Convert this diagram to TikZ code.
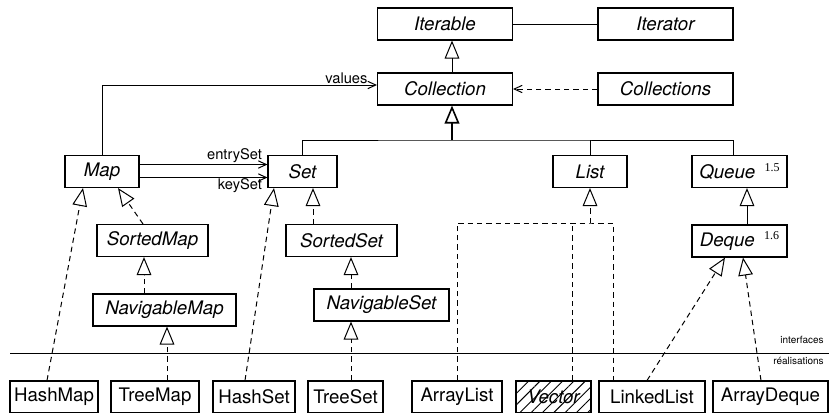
\documentclass[tikz,border=0pt]{standalone}
\usepackage{fontspec}
\setmainfont{TeX Gyre Heros}
\newfontfamily\numfont{Liberation Serif}
\usetikzlibrary{arrows.meta,calc,patterns.meta}

\begin{document}
\begin{tikzpicture}[x=0.75pt,y=0.75pt,yscale=-1,xscale=1,
  box/.style={draw,line width=0.8pt,inner sep=0pt,minimum height=24pt,font=\fontsize{14}{14}\selectfont},
  iface/.style={box,font=\fontsize{14}{14}\selectfont\itshape},
  lbl/.style={inner sep=0.75pt,font=\fontsize{11}{11}\selectfont},
  tiny/.style={inner sep=0.75pt,font=\fontsize{7.5}{7.5}\selectfont},
  conn/.style={line width=0.75pt},
  extend/.style={conn,-{Triangle[open,length=13.5pt,width=11pt]}},
  realize/.style={extend,dash pattern=on 4pt off 3pt},
  assoc/.style={conn,-{Straight Barb[length=6pt,width=5.5pt]}},
  uses/.style={assoc,dash pattern=on 4pt off 3pt},
  impl/.style={conn,dash pattern=on 4pt off 3pt}]
\useasboundingbox (0,0) rectangle (829,412);

%Shape: interfaces
\node[iface,minimum width=101.25pt] (Iterable) at (445,24) {Iterable};
\node[iface,minimum width=101.25pt] (Iterator) at (665.5,24) {Iterator};
\node[iface,minimum width=101.25pt] (Collection) at (445,89) {Collection};
\node[iface,minimum width=101.25pt] (Collections) at (665.5,89) {Collections};
\node[iface,minimum width=55.5pt] (Map) at (102,171.5) {Map};
\node[iface,minimum width=51.75pt] (Set) at (302.5,171.5) {Set};
\node[iface,minimum width=55.5pt] (List) at (590,171.5) {List};
\node[iface,minimum width=71.25pt] (Queue) at (739.5,171.5) {Queue\hspace{7pt}\raisebox{5pt}{\numfont\upshape\fontsize{9}{9}\selectfont 1.5}};
\node[iface,minimum width=83.25pt] (SortedMap) at (152.5,240.5) {SortedMap};
\node[iface,minimum width=83.25pt] (SortedSet) at (341.5,240.5) {SortedSet};
\node[iface,minimum width=71.25pt] (Deque) at (739.5,241) {Deque\hspace{7pt}\raisebox{5pt}{\numfont\upshape\fontsize{9}{9}\selectfont 1.6}};
\node[iface,minimum width=107.25pt] (NavigableMap) at (164.5,310) {NavigableMap};
\node[iface,minimum width=101.25pt] (NavigableSet) at (381.5,305) {NavigableSet};

%Shape: classes
\node[box,minimum width=66pt] (HashMap) at (54,397) {HashMap};
\node[box,minimum width=66pt] (TreeMap) at (155,397) {TreeMap};
\node[box,minimum width=61.5pt] (HashSet) at (254,397) {HashSet};
\node[box,minimum width=56.25pt] (TreeSet) at (345.5,397) {TreeSet};
\node[box,minimum width=67.5pt] (ArrayList) at (457,397) {ArrayList};
\node[box,minimum width=56.25pt,pattern={Lines[angle=45,distance=6pt,line width=0.7pt]}] (Vector) at (553.5,397) {\itshape Vector};
\node[box,minimum width=79.5pt] (LinkedList) at (652,397) {LinkedList};
\node[box,minimum width=86.25pt] (ArrayDeque) at (770.5,397) {ArrayDeque};

\coordinate (bus) at (452,140);
\coordinate (listbus) at (590,223);
\coordinate (vcup) at ($(Vector.north)+(18.5,0)$);
\coordinate (llup) at ($(LinkedList.north)+(-39,0)$);

%Straight Lines: top
\draw[conn] (Iterable) -- (Iterator);
\draw[extend] (bus |- Collection.north) -- (bus |- Iterable.south);
\draw[uses] (Collections) -- (Collection);
\draw[assoc] (Map.north) |- ($(Collection.west)+(0,-4)$) node[lbl,pos=1,anchor=south east,xshift=-6pt] {values};

%Straight Lines: first level
\draw[conn] (Set.north) |- (bus) -| ($(Queue.north)+(-6.5,0)$);
\draw[conn] (List.north) -- (List.north |- bus);
\draw[extend,line width=1.2pt] (bus) -- (bus |- Collection.south);
\draw[assoc] ($(Map.east)+(0,-7)$) -- ($(Set.west)+(0,-7)$) node[lbl,pos=1,anchor=south east,xshift=-3pt] {entrySet};
\draw[assoc] ($(Map.east)+(0,6)$) -- ($(Set.west)+(0,6)$) node[lbl,pos=1,anchor=north east,xshift=-3pt] {keySet};

%Straight Lines: sub-interfaces
\draw[realize] ($(SortedMap.north)+(-9.5,0)$) -- ($(Map.south)+(16,0)$);
\draw[realize] ($(NavigableMap.north)+(-20.5,0)$) -- ($(SortedMap.south)+(-8.5,0)$);
\draw[realize] ($(SortedSet.north)+(-28.5,0)$) -- ($(Set.south)+(10.5,0)$);
\draw[realize] ($(NavigableSet.north)+(-30.5,0)$) -- ($(SortedSet.south)+(9.5,0)$);
\draw[extend] ($(Deque.north)+(7.5,0)$) -- ($(Queue.south)+(7.5,0)$);

%Straight Lines: realisations
\draw[realize] ($(HashMap.north)+(-7,0)$) -- ($(Map.south)+(-19,0)$);
\draw[realize] ($(TreeMap.north)+(12,0)$) -- ($(NavigableMap.south)+(2.5,0)$);
\draw[realize] ($(HashSet.north)+(-9,0)$) -- ($(Set.south)+(-28.5,0)$);
\draw[realize] ($(TreeSet.north)+(5.5,0)$) -- ($(NavigableSet.south)+(-30.5,0)$);
\draw[realize] (listbus) -- (List.south);
\draw[impl] (ArrayList.north) |- (listbus) -| (llup);
\draw[impl] (vcup) -- (vcup |- listbus);
\draw[realize] ($(LinkedList.north)+(-5,0)$) -- ($(Deque.south)+(-14.5,0)$);
\draw[realize] ($(ArrayDeque.north)+(-9.5,0)$) -- ($(Deque.south)+(3.5,0)$);

%Straight Lines: separator
\coordinate (sepL) at (10,353);
\coordinate (sepR) at (829,353);
\draw[conn] (sepL) -- (sepR);
% Text Node
\node[tiny,anchor=east] (ifaces) at (825,340) {interfaces};
% Text Node
\node[tiny,anchor=east] (reals) at (825,361) {réalisations};

\end{tikzpicture}
\end{document}
